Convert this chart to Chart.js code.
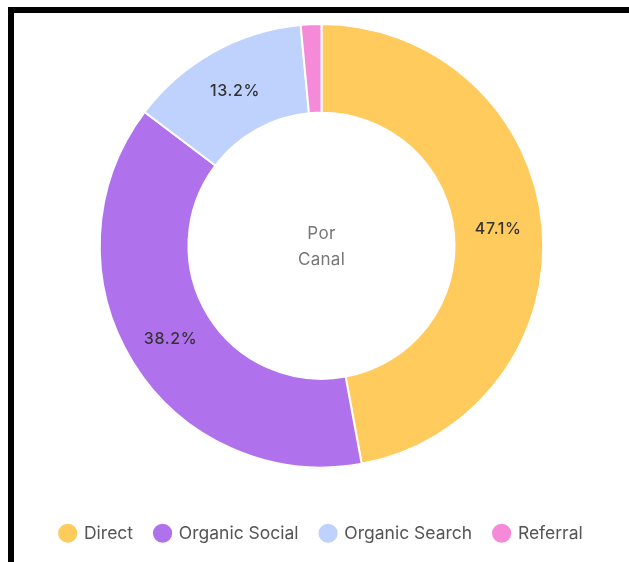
<!DOCTYPE html>
<html>
<head>
<meta charset="utf-8">
<script src="https://cdn.jsdelivr.net/npm/chart.js@4.4.0/dist/chart.umd.min.js"></script>
<style>
  html, body { margin: 0; padding: 0; background: #fff; }
  body { width: 629px; height: 562px; overflow: hidden; position: relative; }
  #frame {
    position: absolute; left: 8px; top: 7px; right: 0; bottom: 0;
    border-left: 6px solid #000; border-top: 6px solid #000;
  }
  #wrap { position: absolute; left: 0; top: 0; width: 615px; height: 549px; }
</style>
</head>
<body>
<div id="frame">
  <div id="wrap"><canvas id="canalChart"></canvas></div>
</div>
<script>
const canales = ['Direct', 'Organic Social', 'Organic Search', 'Referral'];
const porcentajes = [47.1, 38.2, 13.2, 1.5];
const colores = ['#FFCB5C', '#B071EC', '#BED2FD', '#F58AD8'];
const textoCentro = ['Por', 'Canal'];

// Etiquetas de porcentaje dentro de cada segmento + texto central
const etiquetasPlugin = {
  id: 'etiquetas',
  afterDatasetsDraw(chart) {
    const { ctx } = chart;
    const meta = chart.getDatasetMeta(0);
    ctx.save();
    ctx.font = '500 16px Inter, "Liberation Sans", sans-serif';
    ctx.letterSpacing = '0.6px';
    ctx.fillStyle = '#333';
    ctx.textAlign = 'center';
    ctx.textBaseline = 'middle';
    meta.data.forEach((arc, i) => {
      if (porcentajes[i] < 5) return;
      const p = arc.tooltipPosition();
      ctx.fillText(porcentajes[i].toFixed(1) + '%', p.x, p.y);
    });
    const centro = meta.data[0];
    ctx.letterSpacing = '0.3px';
    ctx.font = '17px Inter, "Liberation Sans", sans-serif';
    ctx.fillStyle = '#777';
    ctx.fillText(textoCentro[0], centro.x, centro.y - 12);
    ctx.fillText(textoCentro[1], centro.x, centro.y + 14);
    ctx.restore();
  }
};

new Chart(document.getElementById('canalChart'), {
  type: 'doughnut',
  data: {
    labels: canales,
    datasets: [{
      data: porcentajes,
      backgroundColor: colores,
      borderColor: '#fff',
      borderWidth: 2,
      hoverOffset: 0
    }]
  },
  options: {
    responsive: true,
    maintainAspectRatio: false,
    animation: false,
    cutout: '60%',
    layout: { padding: { top: 10, bottom: 10 } },
    plugins: {
      tooltip: { enabled: false },
      legend: {
        position: 'bottom',
        // titulo vacio: solo sirve para separar la leyenda del grafico
        title: { display: true, text: '', padding: 0, font: { size: 34, lineHeight: 1 } },
        labels: {
          usePointStyle: true,
          pointStyle: 'circle',
          boxWidth: 15,
          boxHeight: 15,
          padding: 22,
          color: '#555',
          font: { family: 'Inter, "Liberation Sans", sans-serif', size: 17.5 }
        }
      }
    }
  },
  plugins: [etiquetasPlugin]
});
</script>
</body>
</html>
